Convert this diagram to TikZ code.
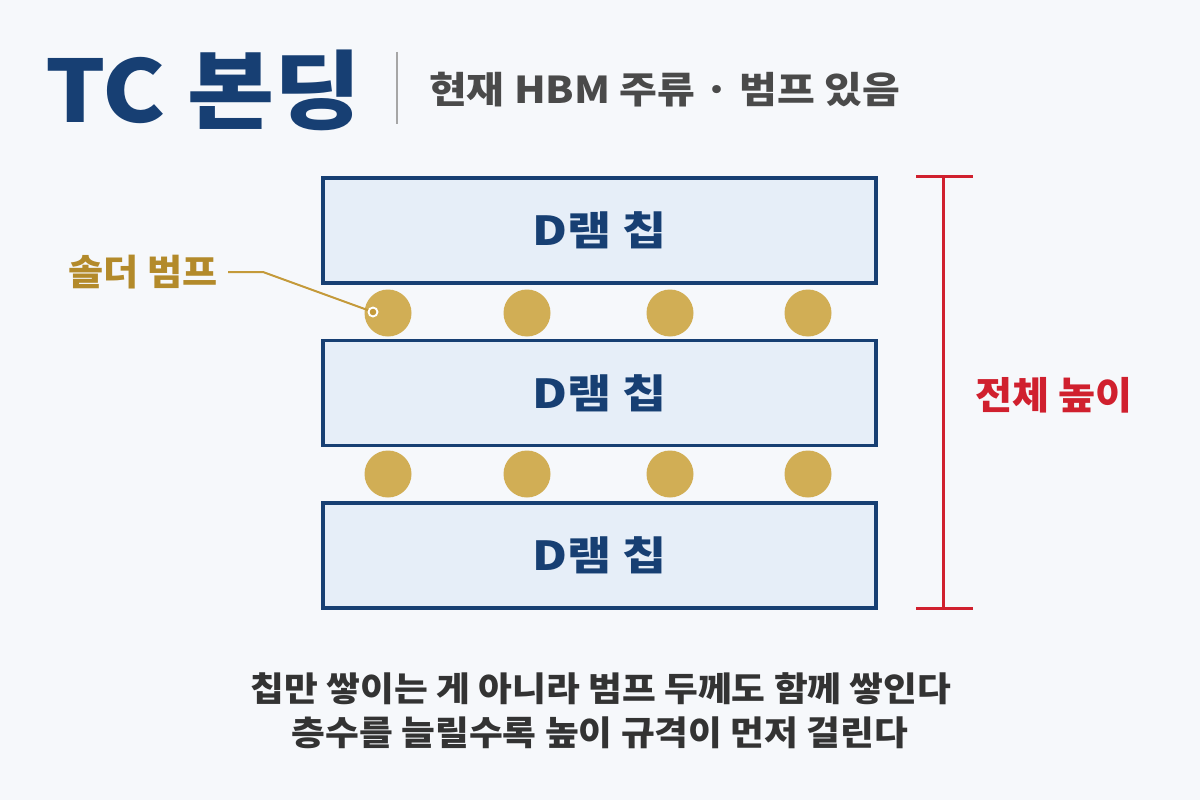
\documentclass[tikz,border=0pt]{standalone}
\usepackage{fontspec}
\setmainfont{Noto Sans CJK KR}
\newfontfamily\krA[FakeStretch=1.08]{Noto Sans CJK KR}
\newfontfamily\krB[FakeStretch=1.11]{Noto Sans CJK KR}
\newfontfamily\krC[FakeStretch=1.2]{Noto Sans CJK KR}
\newfontfamily\krD[FakeStretch=1.06]{Noto Sans CJK KR}
\newfontfamily\krblack[FakeStretch=1.1]{Noto Sans CJK KR Black}
\definecolor{bg}{HTML}{F6F8FB}
\definecolor{navy}{HTML}{173F73}
\definecolor{chipfill}{HTML}{E6EEF8}
\definecolor{gold}{HTML}{D1AE55}
\definecolor{goldtxt}{HTML}{B38A2A}
\definecolor{goldline}{HTML}{C49A3A}
\definecolor{hred}{HTML}{D0202E}
\definecolor{subgray}{HTML}{4A4A4A}
\definecolor{txtgray}{HTML}{333333}
\tikzset{
  chip/.style={draw=navy, line width=3.4pt, fill=chipfill, minimum width=553pt, minimum height=105pt, inner sep=0pt,
    font=\krC\bfseries\fontsize{40}{46}\selectfont, text=navy},
  bump/.style={circle, fill=gold, minimum size=47pt, inner sep=0pt},
  redline/.style={draw=hred, line width=3pt},
  bottomtxt/.style={inner sep=0pt, text=txtgray, font=\krA\bfseries\fontsize{34}{40}\selectfont},
}
\begin{document}
\begin{tikzpicture}[x=1pt,y=-1pt]
\useasboundingbox[fill=bg] (0,0) rectangle (1200,800);
% title
\node[anchor=west, inner sep=0pt, text=navy, font=\krblack\fontsize{86}{92}\selectfont] (title) at (45,90) {TC 본딩};
\draw[draw=gray!70, line width=1.4pt] (397,52) coordinate (s1) -- (397,124) coordinate (s2);
\node[anchor=west, inner sep=0pt, text=subgray, font=\krB\bfseries\fontsize{37}{42}\selectfont] (sub) at (429,90) {현재 HBM 주류 · 범프 있음};
% chips
\node[chip] (c1) at (599.5,230.5) {D램 칩};
\node[chip] (c2) at (599.5,393) {D램 칩};
\node[chip] (c3) at (599.5,555.5) {D램 칩};
% bumps
\foreach \i/\x in {1/388,2/527,3/670,4/808}{
  \node[bump] (a\i) at (\x,313) {};
  \node[bump] (b\i) at (\x,474) {};
}
% leader
\node[anchor=east, inner sep=0pt, text=goldtxt, font=\krD\bfseries\fontsize{36}{42}\selectfont] (lbl) at (218,272) {솔더 범프};
\coordinate (k1) at (228,272);
\coordinate (k2) at (263,272);
\coordinate (tip) at (373,312);
\draw[goldline, line width=2pt] (k1) -- (k2) -- (tip);
\fill[white] (tip) circle (5.5pt);
\fill[goldline] (tip) circle (3.3pt);
% height bar
\coordinate (rt) at (943,176);
\coordinate (rb) at (943,608);
\draw[redline] (rt) -- (rb);
\draw[redline] (916,176) -- (973,176);
\draw[redline] (916,608) -- (973,608);
\node[inner sep=0pt, text=hred, font=\krD\bfseries\fontsize{38}{44}\selectfont] (ht) at (1054,395) {전체 높이};
% bottom text
\node[bottomtxt] (t1) at (601,689) {칩만 쌓이는 게 아니라 범프 두께도 함께 쌓인다};
\node[bottomtxt] (t2) at (600,733) {층수를 늘릴수록 높이 규격이 먼저 걸린다};
\end{tikzpicture}
\end{document}
